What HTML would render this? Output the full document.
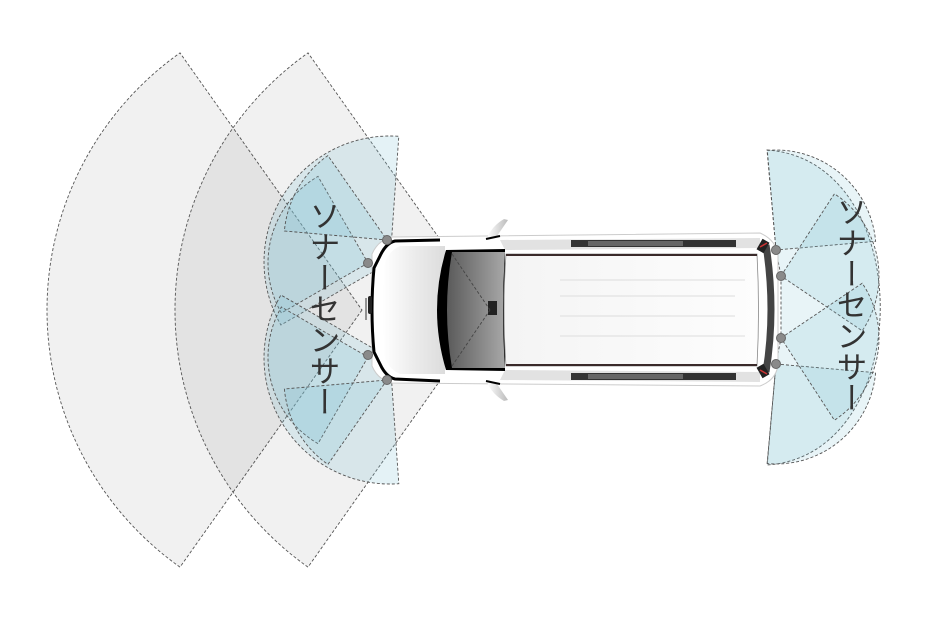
<!DOCTYPE html>
<html><head><meta charset="utf-8"><style>
html,body{margin:0;padding:0;background:#fff;width:930px;height:620px;overflow:hidden}
svg{display:block}
.t{font-family:"Liberation Sans","Noto Sans CJK JP",sans-serif;font-size:31px;fill:#333}
</style></head><body>
<svg id="s" width="930" height="620" viewBox="0 0 930 620" xmlns="http://www.w3.org/2000/svg">
<defs>
<linearGradient id="ws" x1="0" x2="1"><stop offset="0" stop-color="#5a5a5a"/><stop offset="1" stop-color="#a8a8a8"/></linearGradient>
<linearGradient id="hood" x1="0" x2="1"><stop offset="0" stop-color="#fff"/><stop offset="0.5" stop-color="#ececec"/><stop offset="1" stop-color="#dcdcdc"/></linearGradient>
<linearGradient id="roof" x1="0" x2="1"><stop offset="0" stop-color="#f4f4f4"/><stop offset="1" stop-color="#fdfdfd"/></linearGradient>
<linearGradient id="mir" x1="0" x2="1"><stop offset="0" stop-color="#fff"/><stop offset="1" stop-color="#bbb"/></linearGradient>
</defs>
<g id="gray"></g>
<g id="blue"></g>
<g id="car">
  <path d="M392,237 L760,233 Q776,240 778,255 L778,365 Q776,380 760,386 L392,383 Q378,380 372,366 L372,254 Q378,240 392,237 Z" fill="#fff" stroke="#ccc" stroke-width="1"/>
  <path d="M440,240 L395,241 Q386,243 380,256 L374,268 Q370,310 374,352 L380,364 Q386,377 395,379 L440,381" fill="none" stroke="#000" stroke-width="3"/>
  <path d="M445,246 L400,246 Q390,250 385,262 Q380,310 385,358 Q390,370 400,374 L445,374" fill="url(#hood)"/>
  <rect x="368" y="296" width="4" height="18" rx="2" fill="#222"/>
  <line x1="366" y1="298" x2="366" y2="320" stroke="#333" stroke-width="1"/>
  <path d="M500,240 L760,238 L760,248 L505,250 Z" fill="#e2e2e2"/>
  <path d="M500,380 L760,382 L760,372 L505,370 Z" fill="#e2e2e2"/>
  <rect x="571" y="240" width="165" height="7" fill="#333"/>
  <rect x="588" y="241" width="95" height="5" fill="#666"/>
  <rect x="571" y="373" width="165" height="7" fill="#333"/>
  <rect x="588" y="374" width="95" height="5" fill="#666"/>
  <path d="M446,250 L505,249 L505,371 L446,370 Q428,310 446,250 Z" fill="#000"/>
  <path d="M452,252 L505,252 Q501,310 505,368 L452,368 Q442,310 452,252 Z" fill="url(#ws)"/>
  <path d="M488,301 L497,301 L497,315 L488,315 Z" fill="#222"/>
  <path d="M506,254 L757,254 Q760,310 757,366 L506,366 Q502,310 506,254 Z" fill="url(#roof)" stroke="#888" stroke-width="0.8"/>
  <path d="M506,255 L757,255" stroke="#3a2a2a" stroke-width="2"/>
  <path d="M506,365 L757,365" stroke="#3a2a2a" stroke-width="2"/>
  <g stroke="#ddd" stroke-width="1">
    <line x1="560" y1="280" x2="745" y2="280"/><line x1="560" y1="296" x2="735" y2="296"/>
    <line x1="560" y1="316" x2="735" y2="316"/><line x1="560" y1="336" x2="745" y2="336"/>
  </g>
  <path d="M766,245 Q776,310 766,372" fill="none" stroke="#444" stroke-width="7"/>
  <rect x="759" y="240" width="8" height="12" fill="#222" transform="rotate(30 763 246)"/>
  <line x1="760" y1="247" x2="767" y2="243" stroke="#c33" stroke-width="1.5"/>
  <rect x="759" y="365" width="8" height="12" fill="#222" transform="rotate(-30 763 371)"/>
  <line x1="760" y1="370" x2="767" y2="374" stroke="#c33" stroke-width="1.5"/>
  <path d="M487,238 L497,236 L508,220 L504,219 Q492,226 487,238 Z" fill="url(#mir)"/>
  <line x1="486" y1="239" x2="500" y2="236" stroke="#000" stroke-width="2"/>
  <path d="M487,382 L497,384 L508,400 L504,401 Q492,394 487,382 Z" fill="url(#mir)"/>
  <line x1="486" y1="381" x2="500" y2="384" stroke="#000" stroke-width="2"/>
</g>
<g id="over"></g>
<g id="dots" fill="#8a8a8a" stroke="#666" stroke-width="1">
  <circle cx="387" cy="240" r="4.5"/><circle cx="368" cy="263" r="4.5"/>
  <circle cx="368" cy="355" r="4.5"/><circle cx="387" cy="380" r="4.5"/>
  <circle cx="776" cy="250" r="4.5"/><circle cx="781" cy="276" r="4.5"/>
  <circle cx="781" cy="338" r="4.5"/><circle cx="776" cy="364" r="4.5"/>
</g>
<text class="t" x="322" y="200" style="writing-mode:vertical-rl;glyph-orientation-vertical:0" >ソナーセンサー</text>
<text class="t" x="849" y="196" style="writing-mode:vertical-rl;glyph-orientation-vertical:0">ソナーセンサー</text>
</svg>
<script>
function sec(cx,cy,R,a1,a2){
  var r=Math.PI/180,x1=cx+R*Math.cos(a1*r),y1=cy+R*Math.sin(a1*r),x2=cx+R*Math.cos(a2*r),y2=cy+R*Math.sin(a2*r);
  var l=(a2-a1)>180?1:0;
  return "M"+cx+","+cy+" L"+x1.toFixed(1)+","+y1.toFixed(1)+" A"+R+","+R+" 0 "+l+" 1 "+x2.toFixed(1)+","+y2.toFixed(1)+" Z";
}
var NS="http://www.w3.org/2000/svg";
function add(g,d,fill){var p=document.createElementNS(NS,"path");p.setAttribute("d",d);p.setAttribute("fill",fill);
 p.setAttribute("stroke","#555");p.setAttribute("stroke-width","0.9");p.setAttribute("stroke-dasharray","3,2");document.getElementById(g).appendChild(p);}
var ga=Math.atan2(257,182)*180/Math.PI;
add("gray",sec(362,310,315,180-ga,180+ga),"rgba(0,0,0,0.055)");
add("gray",sec(490,310,315,180-ga,180+ga),"rgba(0,0,0,0.055)");
var B="rgba(120,190,210,0.2)";
add("blue",sec(390,262,126,150,274),B);
add("blue",sec(368,263,100,150,240),B);
add("blue",sec(387,240,103,185,235),B);
add("blue",sec(390,358,126,86,210),B);
add("blue",sec(368,357,100,120,210),B);
add("blue",sec(387,380,103,125,175),B);
var C="rgba(120,190,210,0.17)";
add("blue","M776,250 L767,150 C918,160 918,455 767,465 L776,364 L781,338 L781,276 Z",C);
add("blue",sec(776,250,100,-95,-5),C);
add("blue",sec(776,364,100,5,95),C);
add("blue",sec(781,276,98,-57,34),C);
add("blue",sec(781,338,98,-34,57),C);
var o=document.getElementById("over");
[[452,254],[452,366]].forEach(function(p){var l=document.createElementNS(NS,"line");
 l.setAttribute("x1",p[0]);l.setAttribute("y1",p[1]);l.setAttribute("x2",490);l.setAttribute("y2",310);
 l.setAttribute("stroke","#444");l.setAttribute("stroke-width","0.9");l.setAttribute("stroke-dasharray","3,2");o.appendChild(l);});
</script>
</body></html>
